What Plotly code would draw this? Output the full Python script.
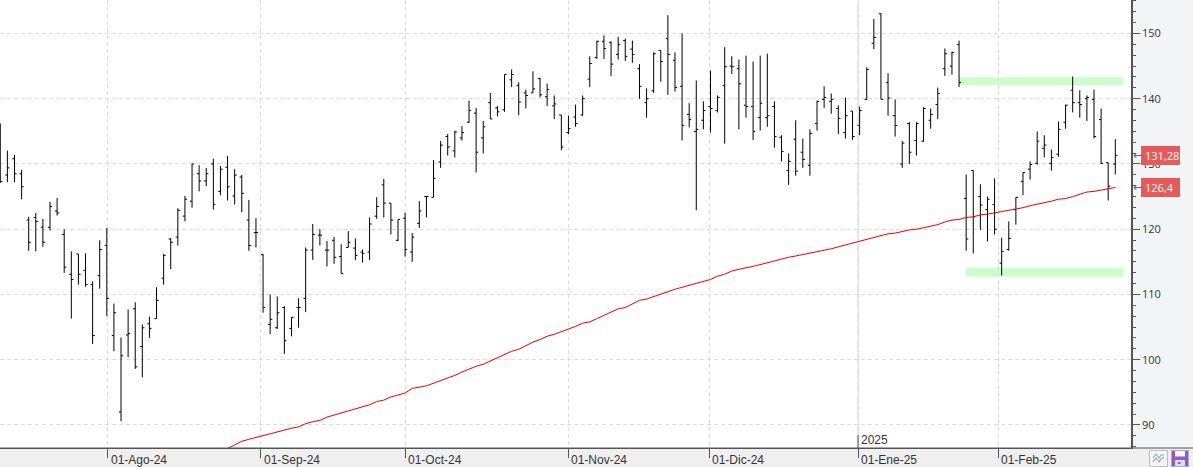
import plotly.graph_objects as go

# Daily OHLC bars, one entry per trading session
opens = [133.0,128.3,130.8,128.5,121.4,121.8,120.3,120.3,122.8,119.2,113.1,116.2,113.7,111.5,112.9,117.5,103.7,92.0,103.8,107.8,102.0,105.5,106.3,112.5,118.5,118.8,122.0,124.3,128.5,127.4,130.0,125.8,129.5,125.1,128.0,121.4,119.5,116.1,105.4,104.9,108.0,104.8,108.0,
         109.4,116.8,119.1,116.8,118.3,115.8,117.2,117.1,116.5,116.5,122.0,126.8,124.0,118.3,121.7,116.5,120.9,125.0,124.9,130.3,134.2,132.0,134.0,136.4,137.8,134.0,139.4,138.6,138.3,142.9,142.0,140.9,140.9,143.1,140.3,138.9,137.5,134.8,137.2,137.5,
         143.0,146.3,148.8,148.6,146.8,148.9,147.6,144.6,139.4,141.2,147.4,149.2,145.9,141.9,137.6,135.0,136.7,138.8,138.2,142.0,145.0,144.6,139.0,138.8,137.1,137.1,138.8,134.1,129.0,133.8,131.8,129.8,136.2,139.9,139.6,138.5,134.8,138.1,135.9,139.9,
         148.5,153.0,142.5,137.4,130.0,136.2,133.6,133.5,136.7,139.1,144.6,145.0,148.3,
         124.7,129.0,125.0,123.0,123.8,114.8,116.9,123.0,127.3,129.2,130.1,132.4,130.1,131.5,136.4,141.3,139.4,140.0,139.9,136.8,130.2,130.0]
highs = [136.2,132.05,131.4,129.1,121.9,122.5,121.6,124.2,124.8,120.0,116.6,116.2,116.3,112.0,118.3,120.2,108.6,103.4,107.7,108.8,105.4,106.6,111.1,116.2,118.6,123.2,125.1,130.0,129.8,129.4,130.8,129.7,131.2,129.2,128.3,124.5,121.7,116.2,110.0,109.7,108.2,106.5,109.4,
         117.2,120.8,120.0,118.2,118.8,117.7,119.7,118.6,116.9,121.8,124.9,127.7,124.0,121.5,122.5,119.4,124.3,125.1,130.6,133.5,134.6,135.1,135.8,139.7,138.6,136.6,140.9,138.9,143.7,144.5,142.5,141.4,144.2,143.2,142.3,140.5,137.5,137.4,139.1,140.5,
         146.5,148.9,149.7,148.8,149.5,149.2,148.9,145.3,141.6,147.1,147.4,152.8,147.1,150.0,139.3,142.8,139.6,144.3,140.5,147.9,146.5,146.0,146.6,145.7,146.6,146.9,139.6,134.4,131.6,136.7,133.9,135.3,139.7,141.9,140.8,139.0,140.2,138.1,138.8,144.8,
         152.2,153.1,143.9,139.9,133.5,136.4,136.4,138.7,138.5,141.7,147.7,147.2,148.9,
         128.4,129.0,126.9,125.0,127.8,118.7,121.2,124.9,128.7,130.4,135.0,134.4,132.2,136.5,139.1,143.4,141.3,140.5,141.4,138.5,130.2,133.8]
lows = [127.1,127.2,127.2,124.6,116.7,116.6,117.3,119.8,122.1,113.3,106.3,111.5,111.2,102.4,110.9,106.7,101.3,90.6,100.4,98.6,97.3,103.3,106.3,111.5,113.9,117.5,121.2,123.3,125.8,126.6,123.0,125.2,124.4,123.8,122.6,116.7,117.2,107.2,103.9,104.7,100.9,103.6,104.9,
        107.3,115.3,117.5,114.3,114.7,113.2,117.2,115.3,114.9,115.3,121.6,121.8,119.2,118.2,115.8,115.0,120.2,121.8,124.9,129.4,131.3,131.0,133.6,136.3,128.7,131.6,136.9,137.3,138.0,141.8,137.5,138.5,140.9,140.2,138.9,136.9,132.1,134.6,135.7,137.4,
        141.8,146.1,146.1,143.5,146.0,145.8,145.5,140.0,137.1,140.9,142.6,140.6,141.1,133.6,135.6,122.9,135.3,134.8,137.9,133.1,143.8,135.3,137.1,133.7,135.1,135.7,132.5,130.4,126.8,128.2,129.4,128.2,135.1,138.6,137.7,134.6,133.9,133.7,134.4,139.8,
        147.6,139.9,137.4,134.2,129.4,130.0,131.3,133.4,135.4,136.9,143.5,143.7,141.8,
        116.7,116.3,119.9,118.1,119.2,112.9,116.7,120.7,125.2,127.6,129.9,131.0,129.0,131.1,135.4,137.9,137.1,136.6,133.9,130.0,124.4,128.4]
closes = [127.3,129.4,128.5,126.5,118.0,121.2,118.0,123.5,122.5,114.2,112.3,113.1,111.5,103.7,116.9,109.4,107.2,100.6,104.0,98.9,104.9,104.8,109.1,116.0,118.0,122.9,124.6,130.0,127.4,128.5,123.8,129.2,126.5,128.3,125.5,117.5,119.5,108.0,106.2,107.2,102.9,106.5,108.0,
          116.8,119.2,119.1,116.8,115.7,113.2,118.0,116.0,116.3,120.8,123.5,124.0,121.4,121.5,116.9,118.8,122.8,125.0,127.8,132.9,132.6,134.9,134.8,138.2,131.8,135.7,136.9,138.0,143.7,143.7,139.5,140.5,141.5,140.6,141.4,139.2,132.6,135.4,136.2,140.0,
          145.4,148.8,147.7,145.3,148.3,146.5,146.8,141.9,140.0,146.9,145.7,146.8,141.7,135.9,136.8,135.3,138.2,138.5,140.2,144.9,144.9,142.3,138.8,135.0,139.3,137.4,134.2,131.9,130.4,128.9,130.7,134.7,139.6,140.2,139.9,137.0,137.4,134.2,138.2,144.5,
          149.4,139.9,140.1,135.9,133.2,131.8,136.2,138.5,137.6,140.8,146.9,147.1,142.5,
          118.5,121.9,123.7,124.6,120.0,116.6,118.6,124.9,128.7,129.9,133.5,132.9,131.0,135.3,139.0,139.4,139.1,140.2,134.2,130.1,126.6,131.3]
# Moving average starts later than the bars, at this session number
ma_start = 32
moving_average = [86.4,87.0,87.5,87.8,88.1,88.3,88.6,89.0,89.3,89.5,89.7,90.2,90.5,90.7,91.2,91.5,91.8,92.1,92.4,92.8,93.1,93.6,93.8,94.3,94.6,94.9,95.6,95.8,96.0,96.4,96.8,97.1,97.6,98.1,98.6,99.0,99.3,99.8,100.4,100.8,
                  101.3,101.6,102.2,102.7,103.1,103.6,103.9,104.3,104.6,105.1,105.6,105.8,106.3,106.8,107.3,107.8,108.0,108.5,109.1,109.3,109.7,110.0,110.5,110.8,111.1,111.4,111.7,112.0,112.3,112.8,113.1,113.6,113.9,114.1,114.3,114.6,114.8,115.2,115.5,115.7,115.9,116.1,116.3,116.6,116.8,117.0,117.3,117.6,117.9,118.2,
                  118.5,118.8,119.1,119.3,119.4,119.7,119.9,120.0,120.2,120.4,120.7,121.1,121.4,121.5,121.8,121.9,122.2,122.3,122.5,122.7,122.8,123.0,123.3,123.6,123.8,124.1,124.3,124.6,124.7,125.0,125.4,125.7,125.8,126.0,126.2,126.4]

# Month boundaries on the session scale (they can fall between sessions)
month_labels = ["01-Ago-24", "01-Sep-24", "01-Oct-24", "01-Nov-24", "01-Dic-24", "01-Ene-25", "01-Feb-25"]
month_positions = [15.1, 36.64, 57.05, 79.94, 99.86, 120.77, 140.5]
year_label = "2025"
last_labels = [(131.28, "131,28"), (126.4, "126,4")]
# Support and resistance bands: first session, last session position, bottom, top
bands = [(135.0, 158.1, 142.1, 143.3), (136.0, 158.1, 112.7, 114.1)]

W, H = 1193, 467
PLOT_W, PLOT_H = 1131, 448
AXIS = "#555555"
LABEL_FONT = "Liberation Sans"
SCALE_FONT = "Open Sans"


def px(x):
    return x / PLOT_W


def py(y):
    return 1 - y / PLOT_H


sessions = list(range(len(closes)))
ma_sessions = [ma_start + i for i in range(len(moving_average))]

fig = go.Figure()
fig.add_trace(go.Ohlc(
    x=sessions, open=opens, high=highs, low=lows, close=closes,
    increasing=dict(line=dict(color="black", width=1)),
    decreasing=dict(line=dict(color="black", width=1)),
    tickwidth=0.3, hoverinfo="skip", showlegend=False,
))
fig.add_trace(go.Scatter(
    x=ma_sessions, y=moving_average, mode="lines",
    line=dict(color="#f00000", width=1), hoverinfo="skip", showlegend=False,
))

shapes = []
for x0, x1, y0, y1 in bands:
    shapes.append(dict(type="rect", xref="x", yref="y", x0=x0, x1=x1, y0=y0, y1=y1,
                       fillcolor="#ccffcc", line_width=0, layer="below"))


def box(x0, y0, x1, y1, fill, line=None, layer="above"):
    shapes.append(dict(type="rect", xref="paper", yref="paper",
                       x0=px(x0), x1=px(x1), y0=py(y1), y1=py(y0),
                       fillcolor=fill, line=dict(color=line or fill, width=1 if line else 0),
                       layer=layer))


def polyline(points, color, width=1):
    path = "M" + " L".join(f"{px(a):.5f},{py(b):.5f}" for a, b in points)
    shapes.append(dict(type="path", xref="paper", yref="paper", path=path,
                       line=dict(color=color, width=width)))


# Right-hand scale panel and the bottom rule
box(PLOT_W, 0, W, PLOT_H, "#f3f4f6", layer="below")
polyline([(0, PLOT_H), (W, PLOT_H)], AXIS)

# Year boundary: long-dashed line plus the taller tick beside the year label
year_x = month_positions[5]
shapes.append(dict(type="line", xref="x", yref="paper", x0=year_x, x1=year_x, y0=0, y1=1,
                   line=dict(color="#cccccc", width=1, dash="10px,4px"), layer="below"))
shapes.append(dict(type="line", xref="x", yref="paper", x0=year_x, x1=year_x, y0=py(435), y1=py(448),
                   line=dict(color=AXIS, width=1)))

# Toolbar buttons in the lower-right corner
box(1149.5, 450.5, 1167.5, 466.5, "#f5f5f5", "#bdbdbd")
polyline([(1153, 458), (1156, 454), (1159, 458), (1161, 455), (1164, 455)], "#7fb2e5", 1.2)
polyline([(1153, 462), (1156, 458), (1159, 462), (1161, 459), (1164, 457)], "#9aa7b5", 1.2)
box(1171.5, 450.5, 1188.5, 466.5, "#8e5cc2", "#a9a9c9")
box(1175, 451, 1185, 456.5, "#f5f5f5")
box(1175, 460, 1185, 466, "#e4d9f2")
box(1178, 462, 1180.5, 464, "#8e5cc2")

annotations = []
for label, pos in zip(month_labels, month_positions):
    annotations.append(dict(text=label, xref="x", yref="paper", x=pos, y=py(460),
                            xanchor="left", yanchor="middle", xshift=2, showarrow=False, borderpad=0,
                            font=dict(family=LABEL_FONT, size=12, color="#333333")))
annotations.append(dict(text=year_label, xref="x", yref="paper", x=year_x, y=py(440),
                        xanchor="left", yanchor="middle", xshift=2, showarrow=False, borderpad=0,
                        font=dict(family=LABEL_FONT, size=12, color="#333333")))
for value, label in last_labels:
    shapes.append(dict(type="rect", xref="paper", yref="y", ysizemode="pixel", yanchor=value,
                       x0=px(1141), x1=px(1180), y0=-9.5, y1=9.5,
                       fillcolor="#e85a5a", line_width=0))
    annotations.append(dict(text="←", xref="paper", yref="y", x=px(1137), y=value,
                            xanchor="center", yanchor="middle", showarrow=False,
                            font=dict(family="DejaVu Sans", size=11, color="#666666")))
    annotations.append(dict(text=label, xref="paper", yref="y", x=px(1143.5), y=value,
                            xanchor="left", yanchor="middle", showarrow=False, borderpad=0,
                            font=dict(family=SCALE_FONT, size=11, color="white")))

fig.update_layout(
    width=W, height=H,
    margin=dict(l=0, r=W - PLOT_W, t=0, b=H - PLOT_H, pad=0),
    paper_bgcolor="#efefef", plot_bgcolor="white",
    shapes=shapes, annotations=annotations, showlegend=False,
    xaxis=dict(
        range=[-0.04, 159.21], rangeslider_visible=False, zeroline=False,
        tickmode="array", tickvals=month_positions, ticktext=[""] * len(month_positions),
        ticks="outside", ticklen=9, tickcolor=AXIS, tickwidth=1,
        showgrid=True, gridcolor="#dddddd", griddash="4px,3px", gridwidth=1,
        showline=True, linecolor=AXIS, linewidth=1,
    ),
    yaxis=dict(
        side="right", range=[86.47, 155.13], zeroline=False,
        tickmode="array", tickvals=[90, 100, 110, 120, 130, 140, 150],
        ticks="outside", ticklen=7, tickcolor=AXIS, tickwidth=1,
        tickfont=dict(family=SCALE_FONT, size=11, color="#333333"),
        minor=dict(dtick=10 / 6, tick0=0, ticks="outside", ticklen=3.5, tickcolor=AXIS, tickwidth=1, showgrid=False),
        showgrid=True, gridcolor="#dddddd", griddash="4px,3px", gridwidth=1,
        showline=True, linecolor=AXIS, linewidth=1.5,
    ),
)

fig.write_html("out.html", config=dict(displayModeBar=False))
